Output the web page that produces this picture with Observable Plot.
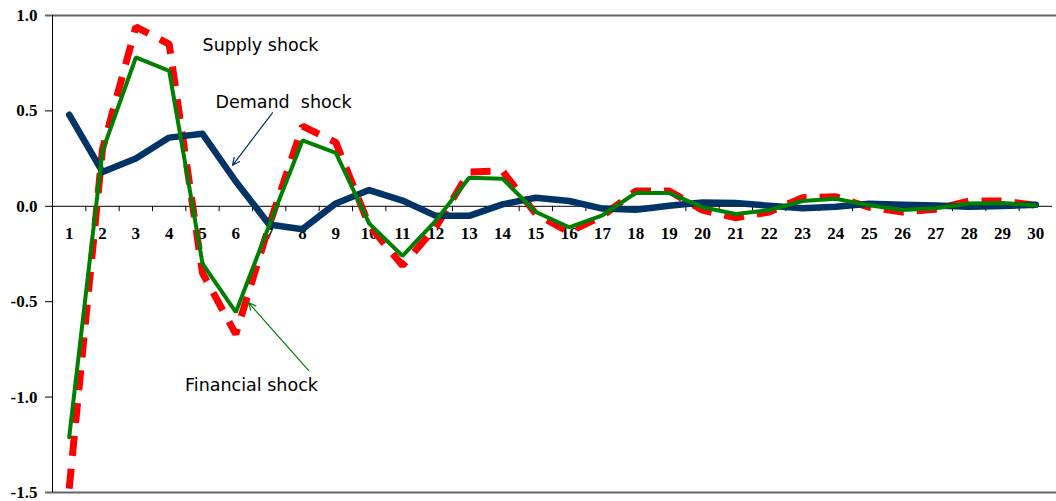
<!DOCTYPE html>
<html>
<head>
<meta charset="utf-8">
<script src="https://cdn.jsdelivr.net/npm/d3@7"></script>
<script src="https://cdn.jsdelivr.net/npm/@observablehq/plot@0.6"></script>
<style>
  html, body { margin: 0; padding: 0; background: #fff; }
</style>
</head>
<body>
<div id="chart"></div>
<script>
const periods = d3.range(1, 31);
const demand = [0.48, 0.18, 0.25, 0.36, 0.38, 0.13, -0.095, -0.12, 0.015, 0.085,
  0.03, -0.05, -0.05, 0.01, 0.045, 0.028, -0.012, -0.018, 0.003, 0.02,
  0.017, 0.003, -0.01, -0.002, 0.013, 0.008, 0.004, -0.003, 0.002, 0.008];
const financial = [-1.21, 0.29, 0.78, 0.71, -0.30, -0.555, -0.1, 0.345, 0.28, -0.09,
  -0.26, -0.075, 0.15, 0.145, -0.03, -0.11, -0.047, 0.07, 0.07, -0.005,
  -0.04, -0.02, 0.028, 0.04, 0.005, -0.02, -0.01, 0.015, 0.017, 0.005];
const supply = [-1.48, 0.3, 0.94, 0.85, -0.35, -0.67, -0.1, 0.42, 0.335, -0.1,
  -0.31, -0.11, 0.18, 0.185, -0.04, -0.135, -0.05, 0.08, 0.08, -0.02,
  -0.06, -0.03, 0.045, 0.05, -0.005, -0.03, -0.015, 0.028, 0.028, 0.005];
const yTicks = [-1.5, -1.0, -0.5, 0.0, 0.5, 1.0];
const xTickLabels = periods.map(String);

// annotation labels (data coordinates) and arrows
const labels = [
  {x: 6.74, y: 0.843, text: "Supply shock"},
  {x: 7.43, y: 0.545, text: "Demand  shock"},
  {x: 6.47, y: -0.94, text: "Financial shock"}
];
const arrows = [
  {x1: 7.1, y1: 0.49, x2: 5.9, y2: 0.215, color: "#003366"},
  {x1: 8.18, y1: -0.86, x2: 6.38, y2: -0.505, color: "#008000"}
];

const rows = (vals) => periods.map((p, i) => ({p, v: vals[i]}));
const bounds = d3.range(1.5, 30, 1);
const fmt = d => (d < 0 ? "-" : "") + Math.abs(d).toFixed(1);

const chart = Plot.plot({
  width: 1056,
  height: 501,
  marginLeft: 52,
  marginRight: 4,
  marginTop: 15,
  marginBottom: 9,
  x: {domain: [0.5, 30.5], axis: null},
  y: {domain: [-1.5, 1.0]},
  style: {background: "#fff"},
  marks: [
    Plot.axisY({ticks: yTicks, tickFormat: fmt, tickSize: 7, tickPadding: 8,
      fontSize: 17, fontWeight: "bold", fontFamily: "Liberation Serif", color: "#000"}),
    Plot.ruleY([yTicks[0], yTicks[yTicks.length - 1]], {stroke: "#666", strokeWidth: 2,
      insetLeft: -7, insetRight: -4}),
    Plot.ruleX([0.5], {stroke: "#000", strokeWidth: 1}),
    Plot.ruleY([0], {stroke: "#000", strokeWidth: 1}),
    Plot.ruleX(bounds, {y1: 0, y2: -0.028, stroke: "#000", strokeWidth: 1}),
    Plot.text(periods, {x: d => d, y: 0, dy: 27, text: (d, i) => xTickLabels[i],
      fontSize: 17, fontWeight: "bold", fontFamily: "Liberation Serif", fill: "#000"}),
    Plot.line(rows(supply), {x: "p", y: "v", stroke: "#FF0000", strokeWidth: 7,
      strokeDasharray: "20,13", strokeLinejoin: "miter", strokeLinecap: "butt"}),
    Plot.line(rows(demand), {x: "p", y: "v", stroke: "#003366", strokeWidth: 6.5,
      strokeLinejoin: "round", strokeLinecap: "round"}),
    Plot.line(rows(financial), {x: "p", y: "v", stroke: "#008000", strokeWidth: 4,
      strokeLinejoin: "miter"}),
    Plot.arrow(arrows, {x1: "x1", y1: "y1", x2: "x2", y2: "y2", stroke: "color",
      strokeWidth: 1.2, headLength: 10, headAngle: 50}),
    Plot.text(labels, {x: "x", y: "y", text: "text", fontSize: 17.5,
      fontFamily: "DejaVu Sans", fill: "#000"})
  ]
});
document.getElementById("chart").appendChild(chart);
</script>
</body>
</html>
